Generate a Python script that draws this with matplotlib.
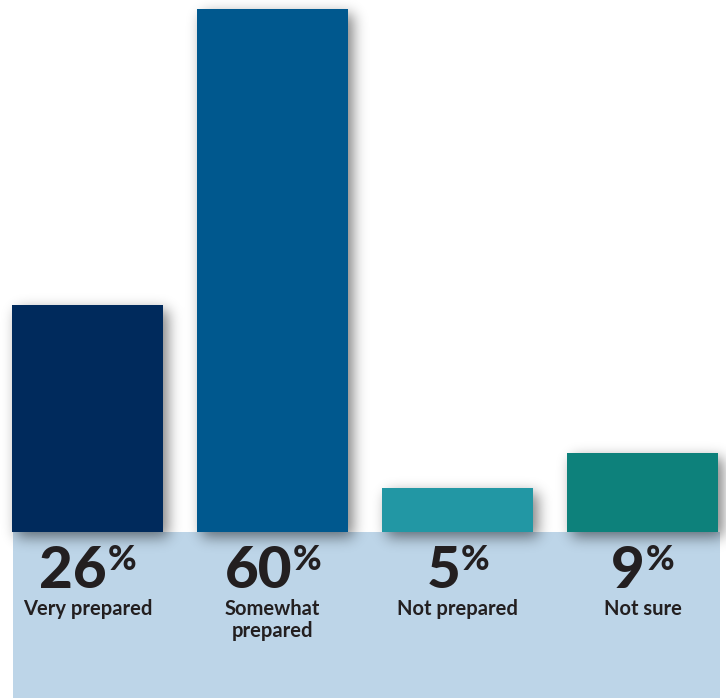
import numpy as np
import matplotlib.pyplot as plt
from matplotlib.patches import Rectangle

# survey results
categories = ['Very prepared', 'Somewhat\nprepared', 'Not prepared', 'Not sure']
values = [26, 60, 5, 9]
colors = ['#002A5C', '#00588E', '#2297A4', '#0D817B']

plt.rcParams['font.family'] = ['Lato', 'DejaVu Sans']

fig = plt.figure(figsize=(7.26, 6.98), dpi=100)
ax = fig.add_axes([0, 0, 1, 1])
ylim = (-19.04, 61.0)
xlim = (-0.473, 3.451)
ax.set_xlim(*xlim)
ax.set_ylim(*ylim)
ax.axis('off')

H_PX = 698


def py(pix):
    # pixel row (from top) -> data y
    return ylim[1] - pix * (ylim[1] - ylim[0]) / H_PX


x = np.arange(len(values))
width = 0.816

# light blue panel below the baseline
ax.add_patch(Rectangle((-0.403, ylim[0]), 3.822, -ylim[0], color='#BDD5E8', lw=0, zorder=1))

bars = ax.bar(x, values, width=width, color=colors, lw=0, zorder=3)

# soft drop shadow behind the bars
fig.canvas.draw()
W, H = fig.canvas.get_width_height()
mask = np.zeros((H, W))
dx, dy = 5, 5
for bar in bars:
    (x0, y0), (x1, y1) = ax.transData.transform(bar.get_bbox().get_points())
    c0, c1 = int(round(x0)) + dx, int(round(x1)) + dx
    r0, r1 = int(round(H - y1)) + dy, int(round(H - y0)) + dy
    mask[max(r0, 0):min(r1, H), max(c0, 0):min(c1, W)] = 1.0

sigma = 7
k = np.arange(-3 * sigma, 3 * sigma + 1)
kernel = np.exp(-k**2 / (2 * sigma**2))
kernel /= kernel.sum()
mask = np.apply_along_axis(lambda r: np.convolve(r, kernel, mode='same'), 1, mask)
mask = np.apply_along_axis(lambda c: np.convolve(c, kernel, mode='same'), 0, mask)

shadow = np.zeros((H, W, 4))
shadow[..., 3] = mask * 0.5
ax.imshow(shadow, extent=(*xlim, *ylim), origin='upper', aspect='auto',
          interpolation='bilinear', zorder=2)
ax.set_xlim(*xlim)
ax.set_ylim(*ylim)

# percentages and category labels
renderer = fig.canvas.get_renderer()
for xi, v, cat in zip(x, values, categories):
    num = ax.text(xi, py(588), f'{v}', fontsize=42, fontweight='black',
                  color='#231F20', ha='left', va='baseline', zorder=5)
    pct = ax.text(xi, py(570), '%', fontsize=25, fontweight='black',
                  color='#231F20', ha='left', va='baseline', zorder=5)
    wn = num.get_window_extent(renderer).width
    wp = pct.get_window_extent(renderer).width
    left_px = ax.transData.transform((xi, 0))[0] - (wn + wp) / 2
    left = ax.transData.inverted().transform((left_px, 0))[0]
    mid = ax.transData.inverted().transform((left_px + wn + 1, 0))[0]
    num.set_x(left)
    pct.set_x(mid)
    ax.text(xi, py(599), cat, fontsize=14.5, fontweight='bold', color='#231F20',
            ha='center', va='top', linespacing=1.1, zorder=5)

plt.savefig('out.png', dpi=100)
